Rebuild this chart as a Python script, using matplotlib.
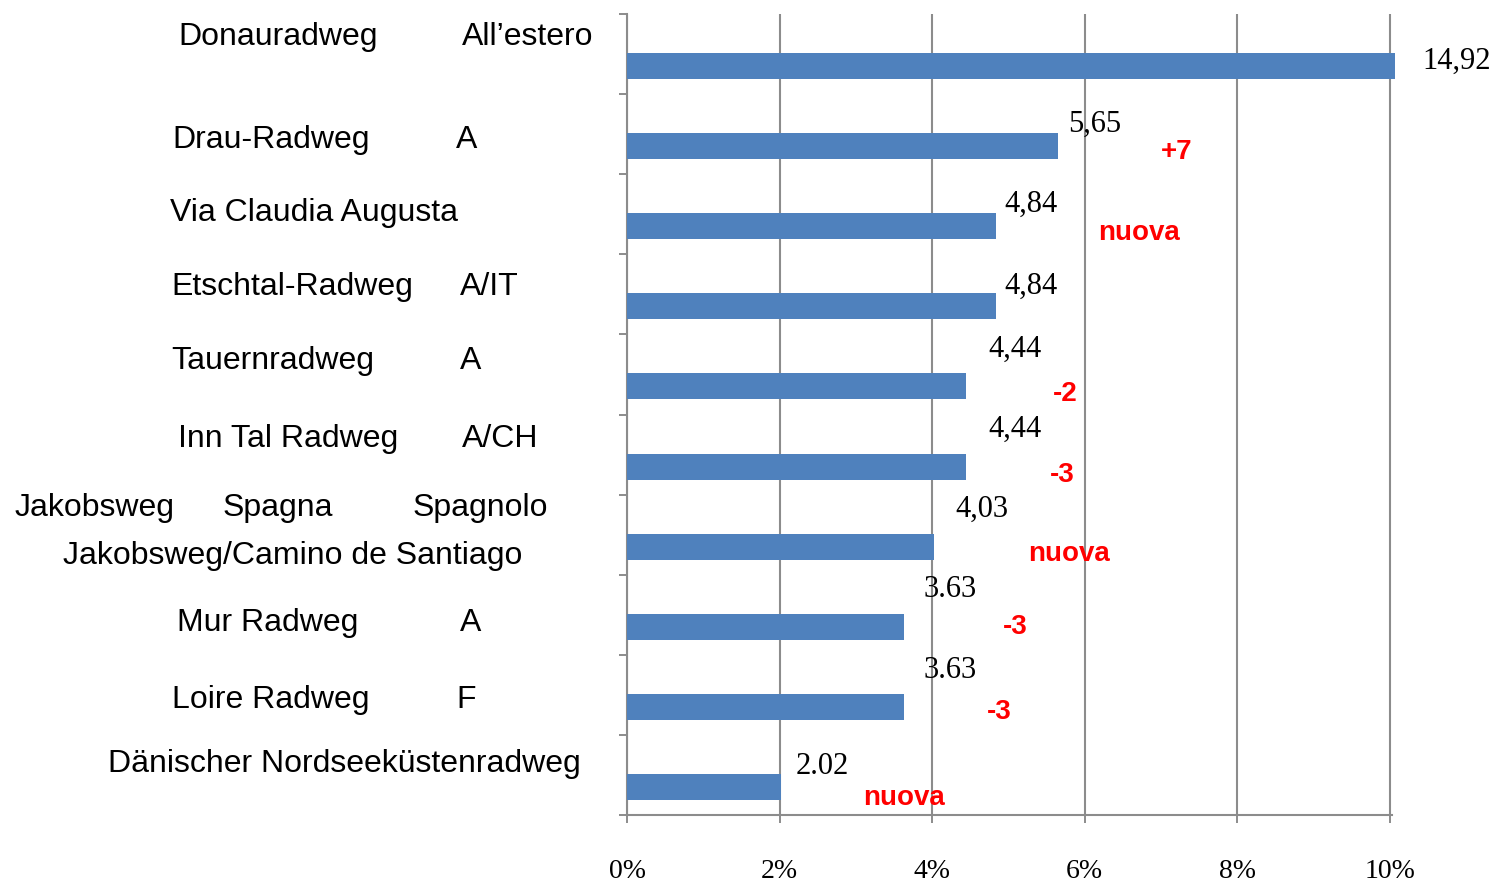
import numpy as np
import matplotlib
matplotlib.use("Agg")
import matplotlib.pyplot as plt

# dati
routes = ["Donauradweg", "Drau-Radweg", "Via Claudia Augusta", "Etschtal-Radweg",
          "Tauernradweg", "Inn Tal Radweg", "Jakobsweg/Camino de Santiago",
          "Mur Radweg", "Loire Radweg", "Dänischer Nordseeküstenradweg"]
countries = ["All’estero", "A", "", "A/IT", "A", "A/CH", "", "A", "F", ""]
shares = [14.92, 5.65, 4.84, 4.84, 4.44, 4.44, 4.03, 3.63, 3.63, 2.02]
share_labels = ["14,92", "5,65", "4,84", "4,84", "4,44", "4,44", "4,03", "3.63", "3.63", "2.02"]
changes = ["", "+7", "nuova", "", "-2", "-3", "nuova", "-3", "-3", "nuova"]
x_ticks = [0, 2, 4, 6, 8, 10]
x_tick_labels = ["0%", "2%", "4%", "6%", "8%", "10%"]

# layout
W, H = 1497, 882
BAR_COLOR = "#4F81BD"
GRID_COLOR = "#8C8C8C"
SANS = ["Liberation Sans", "DejaVu Sans"]
SERIF = ["Liberation Serif", "DejaVu Serif"]
X_CUT = 10.07          # la barra fuori scala viene tagliata qui
BAR_OFFSET = 0.15      # barre spostate verso il basso nella loro fascia
label_dx = [0.35, 0.13, 0.10, 0.10, 0.29, 0.29, 0.28, 0.26, 0.26, 0.19]
label_dy = [-0.06, -0.27, -0.27, -0.25, -0.46, -0.46, -0.46, -0.47, -0.46, -0.25]
change_x = [0, 7.21, 6.71, 0, 5.74, 5.70, 5.79, 5.09, 4.88, 3.63]
change_dy = [0, 0.07, 0.08, 0, 0.09, 0.10, 0.09, 0.0, 0.06, 0.14]
# posizioni (pixel) delle etichette a sinistra: x nome, x paese, y
name_x = [178, 172, 170, 171, 171, 178, 63, 177, 172, 108]
country_x = [462, 456, 0, 460, 460, 462, 0, 460, 456, 0]
name_y = [37, 140, 213, 287, 361, 439, 556, 623, 700, 764]

fig = plt.figure(figsize=(W / 100, H / 100), dpi=100)
ax = fig.add_axes([627 / W, 67 / H, 10.1 * 76.3 / W, 801 / H])

pos = np.arange(len(routes))
bar_vals = np.minimum(shares, X_CUT)
ax.barh(pos + BAR_OFFSET, bar_vals, height=0.325, color=BAR_COLOR, zorder=3)

ax.set_xlim(0, 10.1)
ax.set_ylim(len(routes) - 0.5, -0.5)
ax.set_xticks(x_ticks)
ax.set_xticklabels(x_tick_labels, family=SERIF, fontsize=20)
for lbl in ax.get_xticklabels():
    lbl.set_x(lbl.get_position()[0])
ax.set_yticks(np.arange(len(routes) + 1) - 0.5)
ax.set_yticklabels([])
ax.tick_params(axis="x", length=6, width=1.4, color=GRID_COLOR, pad=26)
ax.tick_params(axis="y", length=6, width=1.4, color=GRID_COLOR)
ax.xaxis.grid(True, color=GRID_COLOR, linewidth=1.5, zorder=1)
ax.set_axisbelow(True)
for side in ["top", "right"]:
    ax.spines[side].set_visible(False)
for side in ["left", "bottom"]:
    ax.spines[side].set_color(GRID_COLOR)
    ax.spines[side].set_linewidth(1.5)
ax.spines["bottom"].set_bounds(0, 10.02)

# valori
for i in range(len(routes)):
    ax.text(bar_vals[i] + label_dx[i], pos[i] + BAR_OFFSET + label_dy[i], share_labels[i],
            family=SERIF, fontsize=22, ha="left", va="center", clip_on=False)
    if changes[i]:
        ax.text(change_x[i], pos[i] + BAR_OFFSET + change_dy[i], changes[i],
                family=SANS, fontsize=20, fontweight="bold", color="#FF0000",
                ha="center", va="center", clip_on=False)

# etichette a sinistra
def ptext(x, y, s):
    fig.text(x / W, 1 - y / H, s, family=SANS, fontsize=23, ha="left", va="center")

for i in range(len(routes)):
    ptext(name_x[i], name_y[i], routes[i])
    if countries[i]:
        ptext(country_x[i], name_y[i], countries[i])
ptext(15, 508, "Jakobsweg")
ptext(223, 508, "Spagna")
ptext(413, 508, "Spagnolo")

fig.savefig("out.png", dpi=100)
